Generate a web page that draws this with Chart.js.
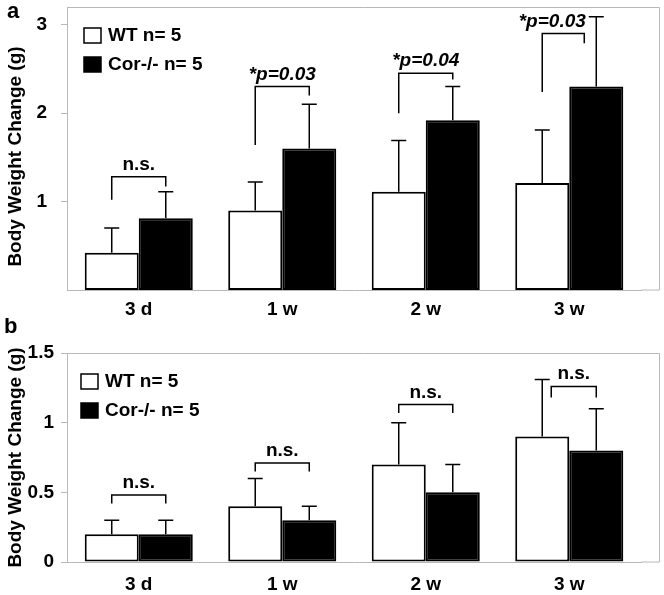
<!DOCTYPE html>
<html>
<head>
<meta charset="utf-8">
<script src="https://cdn.jsdelivr.net/npm/chart.js@4.4.1/dist/chart.umd.min.js"></script>
<style>
    html, body { margin: 0; padding: 0; background: #ffffff; }
    #wrap { position: relative; width: 664px; height: 595px; }
    canvas { position: absolute; left: 0; }
    #chartA { top: 0; }
    #chartB { top: 318px; }
</style>
</head>
<body>
<div id="wrap">
    <canvas id="chartA" width="664" height="318"></canvas>
    <canvas id="chartB" width="664" height="277"></canvas>
</div>
<script>
// =========================================
// Data
// =========================================
const categories = ["3 d", "1 w", "2 w", "3 w"];
const seriesNames = ["WT n= 5", "Cor-/- n= 5"];

// panel a
const wtMeanA = [0.42, 0.90, 1.11, 1.21];
const wtSdA = [0.28, 0.32, 0.58, 0.60];
const corMeanA = [0.81, 1.60, 1.92, 2.30];
const corSdA = [0.30, 0.50, 0.38, 0.79];
const yTicksA = [1, 2, 3];
const sigLabelsA = ["n.s.", "*p=0.03", "*p=0.04", "*p=0.03"];
const bracketTopA = [1.28, 2.30, 2.45, 2.90];
const bracketLeftEndA = [1.02, 1.64, 2.00, 2.24];
const bracketRightEndA = [1.17, 2.20, 2.38, 2.79];

// panel b
const wtMeanB = [0.20, 0.40, 0.70, 0.90];
const wtSdB = [0.10, 0.20, 0.30, 0.41];
const corMeanB = [0.20, 0.30, 0.50, 0.80];
const corSdB = [0.10, 0.10, 0.20, 0.30];
const yTicksB = [0, 0.5, 1, 1.5];
const sigLabelsB = ["n.s.", "n.s.", "n.s.", "n.s."];
const bracketTopB = [0.48, 0.71, 1.13, 1.26];
const bracketLeftEndB = [0.42, 0.65, 1.07, 1.18];
const bracketRightEndB = [0.42, 0.65, 1.07, 1.18];

const FONT = "'Liberation Sans', Arial, sans-serif";
const AXIS_GRAY = "#b8b8b8";

// =========================================
// Extras: error bars, brackets, legend, frame
// =========================================
function panelExtras(p) {
    return {
        id: "panelExtras",
        afterDatasetsDraw(chart) {
            const ctx = chart.ctx;
            const y = chart.scales.y;
            const wtBars = chart.getDatasetMeta(0).data;
            const corBars = chart.getDatasetMeta(1).data;

            ctx.save();
            ctx.strokeStyle = "#000000";
            ctx.lineWidth = 1.5;

            // error bars (upper only)
            [[wtBars, p.wtMean, p.wtSd], [corBars, p.corMean, p.corSd]].forEach(([bars, mean, sd]) => {
                bars.forEach((bar, i) => {
                    const yTop = y.getPixelForValue(mean[i] + sd[i]);
                    ctx.beginPath();
                    ctx.moveTo(bar.x, bar.y);
                    ctx.lineTo(bar.x, yTop);
                    ctx.moveTo(bar.x - 7.5, yTop);
                    ctx.lineTo(bar.x + 7.5, yTop);
                    ctx.stroke();
                });
            });

            // significance brackets
            categories.forEach((c, i) => {
                const top = y.getPixelForValue(p.bracketTop[i]);
                let xl = wtBars[i].x;
                let xr = corBars[i].x;
                let shift = 0;
                if (p.wtMean[i] + p.wtSd[i] > p.bracketTop[i]) xl += 9;
                if (p.corMean[i] + p.corSd[i] > p.bracketTop[i]) {
                    xr -= 12;
                    shift = -11;
                }
                ctx.beginPath();
                ctx.moveTo(xl, y.getPixelForValue(p.bracketLeftEnd[i]));
                ctx.lineTo(xl, top);
                ctx.lineTo(xr, top);
                ctx.lineTo(xr, y.getPixelForValue(p.bracketRightEnd[i]));
                ctx.stroke();

                const label = p.sigLabels[i];
                const italic = label.indexOf("p=") >= 0 ? "italic " : "";
                ctx.font = italic + "bold 19px " + FONT;
                ctx.fillStyle = "#000000";
                ctx.textAlign = "center";
                ctx.textBaseline = "alphabetic";
                ctx.fillText(label, (xl + xr) / 2 + shift, top - 7);
            });
            ctx.restore();
        },
        afterDraw(chart) {
            const ctx = chart.ctx;
            const area = chart.chartArea;
            const frameRight = area.right + 18;

            ctx.save();
            // outer frame (top, right, bottom extension)
            ctx.strokeStyle = AXIS_GRAY;
            ctx.lineWidth = 1;
            ctx.beginPath();
            ctx.moveTo(area.left, area.top + 0.5);
            ctx.lineTo(frameRight + 0.5, area.top + 0.5);
            ctx.lineTo(frameRight + 0.5, area.bottom);
            ctx.lineTo(area.right, area.bottom);
            ctx.stroke();

            // legend
            const colors = ["#ffffff", "#000000"];
            ctx.font = "bold 19px " + FONT;
            ctx.textAlign = "left";
            ctx.textBaseline = "middle";
            seriesNames.forEach((name, i) => {
                const bx = area.left + p.legendX;
                const by = area.top + 21 + i * 29;
                ctx.fillStyle = colors[i];
                ctx.fillRect(bx, by, 17, 15);
                ctx.strokeStyle = "#000000";
                ctx.lineWidth = 1.5;
                ctx.strokeRect(bx, by, 17, 15);
                ctx.fillStyle = "#000000";
                ctx.fillText(name, bx + 24, by + 8);
            });

            // panel letter
            ctx.font = "bold 22px " + FONT;
            ctx.fillText(p.letter, p.letterX, p.letterY);

            // y axis title
            ctx.font = "bold 19px " + FONT;
            ctx.textAlign = "center";
            ctx.translate(16, (area.top + area.bottom) / 2 + p.titleShift);
            ctx.rotate(-Math.PI / 2);
            ctx.fillText("Body Weight Change (g)", 0, 0);
            ctx.restore();
        },
    };
}

// =========================================
// Panel factory
// =========================================
function makePanel(canvasId, p) {
    const tickFont = { family: FONT, size: 19, weight: "bold" };

    return new Chart(document.getElementById(canvasId), {
        type: "bar",
        data: {
            labels: categories,
            datasets: [
                {
                    label: seriesNames[0],
                    data: p.wtMean,
                    backgroundColor: "#ffffff",
                    borderColor: "#000000",
                    borderWidth: 2,
                    borderSkipped: false,
                    categoryPercentage: 0.753,
                    barPercentage: 1.0,
                },
                {
                    label: seriesNames[1],
                    data: p.corMean,
                    backgroundColor: "#000000",
                    borderColor: "#000000",
                    borderWidth: 2,
                    borderSkipped: false,
                    categoryPercentage: 0.753,
                    barPercentage: 1.0,
                },
            ],
        },
        options: {
            responsive: false,
            animation: false,
            layout: {
                padding: { top: p.padTop, right: 23, left: 0, bottom: 0 },
            },
            scales: {
                x: {
                    grid: { display: false, drawTicks: false },
                    border: { color: AXIS_GRAY, width: 1 },
                    ticks: { font: tickFont, color: "#000000", padding: p.xPad },
                    afterFit: (s) => {
                        s.height = p.xHeight;
                        s.paddingLeft = 0;
                        s.paddingRight = 0;
                    },
                },
                y: {
                    min: 0,
                    max: p.yMax,
                    afterBuildTicks: (s) => {
                        s.ticks = p.yTicks.map((v) => ({ value: v }));
                    },
                    afterFit: (s) => {
                        s.width = 67;
                        s.paddingTop = 0;
                        s.paddingBottom = 0;
                    },
                    grid: {
                        drawOnChartArea: false,
                        drawTicks: true,
                        tickLength: 6,
                        color: AXIS_GRAY,
                    },
                    border: { color: AXIS_GRAY, width: 1 },
                    ticks: {
                        font: tickFont,
                        color: "#000000",
                        padding: p.yPad,
                        callback: (v) => String(v),
                    },
                },
            },
            plugins: {
                legend: { display: false },
                tooltip: { enabled: false },
            },
        },
        plugins: [panelExtras(p)],
    });
}

makePanel("chartA", {
    wtMean: wtMeanA, wtSd: wtSdA, corMean: corMeanA, corSd: corSdA,
    yTicks: yTicksA, yMax: 3.2,
    sigLabels: sigLabelsA, bracketTop: bracketTopA,
    bracketLeftEnd: bracketLeftEndA, bracketRightEnd: bracketRightEndA,
    padTop: 7, xHeight: 28, xPad: 8, yPad: 14,
    legendX: 17, letter: "a", letterX: 7, letterY: 12, titleShift: 8,
});

makePanel("chartB", {
    wtMean: wtMeanB, wtSd: wtSdB, corMean: corMeanB, corSd: corSdB,
    yTicks: yTicksB, yMax: 1.5,
    sigLabels: sigLabelsB, bracketTop: bracketTopB,
    bracketLeftEnd: bracketLeftEndB, bracketRightEnd: bracketRightEndB,
    padTop: 35, xHeight: 33, xPad: 11, yPad: 7,
    legendX: 14, letter: "b", letterX: 4, letterY: 9, titleShift: 0,
});
</script>
</body>
</html>
